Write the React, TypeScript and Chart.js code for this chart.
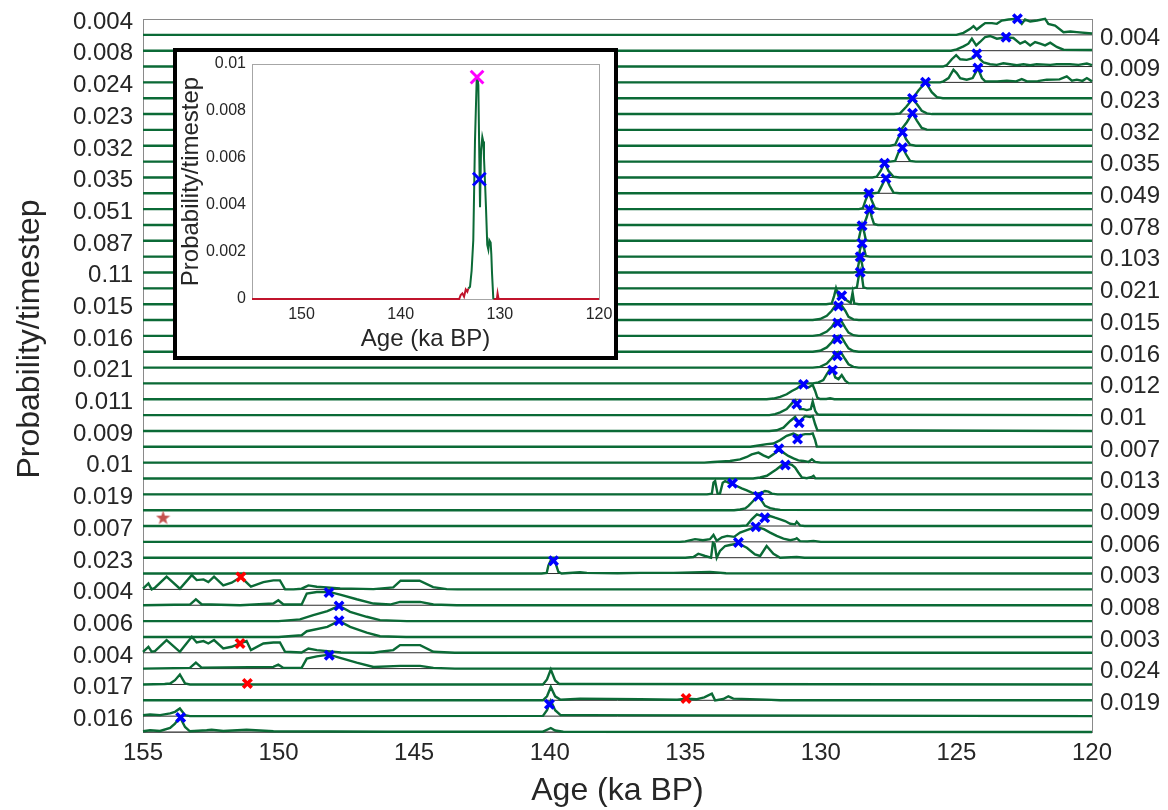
import React, { useEffect, useRef } from 'react';
import { Chart, registerables } from 'chart.js';

Chart.register(...registerables);

const FONT = "'Liberation Sans', Arial, Helvetica, sans-serif";
const TEXT = '#262626';
const GREEN = '#0b6a36';
const DARK_RED = '#c0142c';

const AGE_TICKS = [155, 150, 145, 140, 135, 130, 125, 120];
const INSET_AGE_TICKS = [150, 140, 130, 120];
const INSET_PROB_TICKS = [0, 0.002, 0.004, 0.006, 0.008, 0.01];

const LEFT_LABELS = ['0.004', '0.008', '0.024', '0.023', '0.032', '0.035', '0.051', '0.087', '0.11', '0.015', '0.016', '0.021', '0.011', '0.009', '0.01', '0.019', '0.007', '0.023', '0.004', '0.006', '0.004', '0.017', '0.016'];
const RIGHT_LABELS = ['0.004', '0.009', '0.023', '0.032', '0.035', '0.049', '0.078', '0.103', '0.021', '0.015', '0.016', '0.012', '0.01', '0.007', '0.013', '0.009', '0.006', '0.003', '0.008', '0.003', '0.024', '0.019'];

// Each row: [age (ka BP), relative density height]
const R00 = [[155, 0], [125.0, 0], [124.74, 2], [124.49, 6], [124.37, 8.7], [124.25, 5.3], [124.06, 9.3], [123.94, 11.7], [123.69, 11.7], [123.51, 11], [123.33, 14.3], [123.08, 15.3], [122.75, 16], [122.59, 11], [122.47, 15.3], [122.28, 13.3], [122.03, 14.3], [121.73, 16], [121.61, 11], [121.36, 9.3], [121.05, 2.7], [120.8, 3.3], [120.56, 2.7], [120, 1.3]];
const R01 = [[155, 0], [125.2, 0], [124.99, 1.3], [124.74, 4.3], [124.56, 7], [124.43, 12], [124.27, 5.3], [124.13, 8.7], [123.94, 13.7], [123.76, 14.7], [123.51, 12], [123.33, 12.7], [123.17, 13.3], [122.9, 12.7], [122.65, 7], [122.47, 9.3], [122.28, 5.3], [122.1, 8.7], [121.91, 7], [121.73, 5.3], [121.54, 8], [121.3, 3.7], [121.05, 1], [120, 0.7]];
const R02 = [[155, 0], [125.5, 0], [125.36, 1.3], [125.17, 7.3], [125.01, 11.3], [124.86, 7.3], [124.62, 6.7], [124.43, 8], [124.25, 12.3], [124.13, 7.3], [124.0, 4], [123.76, 2.3], [123.51, 1.7], [123.27, 3.3], [123.02, 2.3], [122.77, 1.3], [122.53, 2.3], [122.28, 1.3], [122.04, 2.3], [121.54, 1.7], [121.3, 2.3], [120.81, 2.3], [120.5, 1.7], [120.19, 3], [120, 1.3]];
const R03 = [[155, 0], [125.6, 0], [125.48, 1], [125.29, 4.3], [125.11, 12.7], [124.99, 9.3], [124.86, 4.3], [124.62, 2.7], [124.4, 4.3], [124.27, 11], [124.21, 14.3], [124.06, 4.3], [123.94, 1], [123.5, 1], [123.14, 1.7], [122.8, 1], [122.59, 3.3], [122.4, 1], [122, 1.3], [121.67, 2.7], [121.2, 3], [120.93, 6], [120.74, 1.7], [120.56, 2.7], [120.35, 1.5], [120.19, 4.3], [120, 1]];
const R04 = [[155, 0], [126.8, 0], [126.58, 1], [126.4, 7.7], [126.14, 16], [125.91, 6], [125.72, 1], [125.5, 0], [120, 0]];
const R05 = [[155, 0], [127.3, 0], [127.08, 0.7], [126.85, 7.3], [126.62, 15], [126.46, 10], [126.28, 3.3], [126.09, 0.7], [125.9, 0], [120, 0]];
const R06 = [[155, 0], [127.2, 0], [127.02, 1], [126.83, 7.7], [126.62, 16.7], [126.46, 9.3], [126.28, 2], [126.09, 0.3], [120, 0]];
const R07 = [[155, 0], [127.45, 0], [127.26, 1], [127.14, 8.3], [126.99, 15], [126.86, 6.7], [126.71, 1], [126.5, 0], [120, 0]];
const R08 = [[155, 0], [127.45, 0], [127.26, 0.7], [127.14, 9], [126.99, 14.7], [126.86, 7.3], [126.71, 0.7], [126.5, 0], [120, 0]];
const R09 = [[155, 0], [128.1, 0], [127.94, 0.7], [127.79, 6.7], [127.65, 15], [127.51, 6.7], [127.32, 0.7], [127.1, 0], [120, 0]];
const R10 = [[155, 0], [128.05, 0], [127.88, 0.7], [127.75, 7.7], [127.6, 16], [127.47, 7.7], [127.32, 0.7], [127.1, 0], [120, 0]];
const R11 = [[155, 0], [128.6, 0], [128.45, 1], [128.36, 8.3], [128.23, 16.7], [128.12, 8.3], [128.0, 1], [127.85, 0], [120, 0]];
const R12 = [[155, 0], [128.55, 0], [128.4, 1], [128.31, 7.7], [128.21, 17], [128.12, 7.7], [128.04, 1], [127.9, 0], [120, 0]];
const R13 = [[155, 0], [128.75, 0], [128.61, 0.7], [128.55, 8.3], [128.48, 16], [128.4, 8.3], [128.34, 0.7], [128.2, 0], [120, 0]];
const R14 = [[155, 0], [128.75, 0], [128.61, 0.7], [128.55, 7.7], [128.48, 14.3], [128.4, 7.7], [128.34, 0.7], [128.2, 0], [120, 0]];
const R15 = [[155, 0], [128.8, 0], [128.67, 0.7], [128.61, 8.3], [128.55, 16.7], [128.48, 8.3], [128.43, 0.7], [128.3, 0], [120, 0]];
const R16 = [[155, 0], [128.8, 0], [128.67, 1], [128.61, 11], [128.55, 17.7], [128.48, 11], [128.43, 1], [128.3, 0], [120, 0]];
const R17 = [[155, 0], [129.8, 0], [129.6, 0.7], [129.51, 8.3], [129.44, 16], [129.35, 8.3], [129.23, 7.7], [129.11, 5], [128.98, 2.7], [128.9, 1.3], [128.83, 11.7], [128.77, 0.7], [128.6, 0], [120, 0]];
const R18 = [[155, 0], [130.3, 0], [130.03, 1], [129.78, 4.3], [129.6, 9.3], [129.47, 14.3], [129.35, 16], [129.23, 14.3], [129.1, 9.3], [128.98, 3.3], [128.8, 0.7], [128.6, 0], [120, 0]];
const R19 = [[155, 0], [130.3, 0], [130.03, 1], [129.78, 4.3], [129.6, 9], [129.47, 14.3], [129.35, 15.7], [129.23, 14.3], [129.1, 8.3], [128.98, 3.3], [128.8, 0.7], [128.6, 0], [120, 0]];
const R20 = [[155, 0], [130.3, 0], [130.03, 1], [129.78, 4.3], [129.6, 9.3], [129.47, 15], [129.35, 16], [129.23, 14.3], [129.1, 8.3], [128.98, 3.3], [128.8, 0.7], [128.6, 0], [120, 0]];
const R21 = [[155, 0], [130.3, 0], [130.03, 0.7], [129.78, 4], [129.6, 9.3], [129.47, 14], [129.35, 15.7], [129.23, 14], [129.1, 8.3], [128.98, 3.3], [128.8, 0.7], [128.6, 0], [120, 0]];
const R22 = [[155, 0], [130.3, 0], [130.09, 1], [129.91, 3.3], [129.78, 9.3], [129.66, 14.3], [129.56, 13.3], [129.47, 6], [129.35, 4.3], [129.23, 8.3], [129.1, 2.7], [128.98, 0.3], [120, 0]];
const R23 = [[155, 0], [132, 0], [131.75, 0.7], [131.5, 2.3], [131.26, 5], [131.07, 8.3], [130.89, 10.7], [130.77, 13.3], [130.64, 14], [130.54, 12.3], [130.46, 11.7], [130.37, 13.3], [130.3, 14.3], [130.21, 8.3], [130.13, 1.7], [130.03, 0.3], [129.8, 0.3], [129.66, 1], [129.5, 0], [120, 0]];
const R24 = [[155, 0], [131.9, 0], [131.69, 1], [131.5, 2.7], [131.26, 6], [131.07, 11.7], [130.95, 15], [130.86, 11], [130.77, 6], [130.64, 6], [130.52, 5], [130.37, 6], [130.3, 13.7], [130.21, 4.3], [130.13, 1], [130.03, 0.3], [120, 0]];
const R25 = [[155, 0], [131.9, 0], [131.63, 0.7], [131.38, 3.3], [131.13, 10], [130.95, 14], [130.83, 8.3], [130.7, 11.7], [130.58, 15], [130.4, 14], [130.3, 15], [130.21, 6.7], [130.13, 0.7], [120, 0]];
const R26 = [[155, 0], [132.6, 0], [132.36, 1], [131.99, 2.7], [131.75, 3.3], [131.5, 6.7], [131.26, 11], [131.01, 13.3], [130.83, 11], [130.7, 12], [130.58, 12.7], [130.4, 12.7], [130.3, 13.3], [130.21, 6.7], [130.15, 0.3], [120, 0]];
const R27 = [[155, 0], [134.3, 0], [133.96, 0.7], [133.35, 1.7], [132.98, 3.3], [132.73, 5.7], [132.55, 8.3], [132.3, 10], [132.12, 7.3], [131.93, 5], [131.75, 8.3], [131.56, 12.3], [131.38, 10], [131.2, 6.7], [131.01, 4.3], [130.83, 2.3], [130.64, 1.7], [130.46, 0.7], [130.33, 3.3], [130.21, 0.7], [130.0, 0], [120, 0]];
const R28 = [[155, 0], [132.5, 0], [132.24, 1], [131.99, 2.7], [131.81, 6], [131.63, 9.3], [131.44, 13.3], [131.26, 15], [131.07, 13.7], [130.95, 11], [130.83, 6], [130.7, 1], [130.52, 0.3], [130.33, 1.7], [130.27, 2.7], [130.21, 0.3], [120, 0]];
const R29 = [[155, 0], [134.2, 0], [134.02, 0.7], [133.96, 11.7], [133.9, 13.3], [133.81, 0.7], [133.72, 0.7], [133.62, 11.7], [133.53, 13.3], [133.41, 11.7], [133.26, 10], [133.1, 8.3], [132.92, 6], [132.73, 4], [132.55, 1.7], [132.36, 0.7], [132.18, 1.7], [132.06, 3.3], [131.93, 2.7], [131.81, 0.7], [131.6, 0], [120, 0]];
const R30 = [[155, 0], [133.2, 0], [132.98, 0.7], [132.79, 1.7], [132.67, 4.3], [132.55, 7.7], [132.43, 11], [132.3, 14.3], [132.18, 9.3], [132.06, 4.3], [131.87, 2], [131.69, 1], [131.5, 0.3], [120, 0]];
const R31 = [[155, 0], [133, 0], [132.73, 0.7], [132.55, 6.7], [132.36, 11.7], [132.18, 10], [132.06, 7.7], [131.87, 10], [131.69, 8.3], [131.5, 6.7], [131.32, 5], [131.13, 2.3], [130.95, 1.7], [130.89, 4.3], [130.77, 0.7], [130.6, 0], [120, 0]];
const R32 = [[155, 0], [135.2, 0], [135.0, 0.5], [134.64, 2.7], [134.35, 1.7], [134.09, 2.7], [133.96, 7], [133.84, 1], [133.65, 4.5], [133.45, 6], [133.2, 5], [132.98, 9.3], [132.73, 11.7], [132.4, 15], [132.1, 12.7], [131.87, 9.3], [131.63, 6], [131.38, 3.3], [131.13, 1.7], [130.95, 2.7], [130.89, 3.7], [130.77, 0.7], [130.5, 0.5], [130.27, 1], [130.0, 0], [120, 0]];
const R33 = [[155, 0], [135, 0], [134.7, 0.7], [134.52, 4], [134.27, 1.7], [134.05, 0], [133.98, 15], [133.92, 14], [133.84, 0], [133.72, 6.7], [133.53, 11.7], [133.35, 12.7], [133.04, 14.3], [132.73, 10], [132.43, 3.3], [132.24, 1.7], [132.0, 11.7], [131.75, 4], [131.5, 0], [130.89, 0.7], [130.6, 0], [120, 0]];
const R34 = [[155, 0], [140.3, 0], [140.11, 0.7], [140.05, 8], [139.93, 15], [139.8, 11.7], [139.68, 1.7], [139.56, 0], [138.88, 1.3], [138.63, 0.7], [137.5, 0.3], [136.67, 0.7], [135.44, 0.7], [134.09, 1.7], [133.5, 0.3], [120, 0]];
const R35 = [[155, 0.7], [154.8, 6], [154.68, 0], [154.56, 1.7], [154.13, 12.7], [153.64, 0.7], [153.2, 14.3], [153.02, 9.3], [152.77, 10], [152.59, 7.3], [152.38, 12.7], [152.04, 4], [151.73, 6.7], [151.39, 12.3], [151.02, 2.7], [150.56, 7.3], [150.19, 9], [149.95, 9], [149.76, 0], [149.45, 0], [149.15, 0.7], [148.9, 4], [148.59, 2.7], [147.73, 1], [146.5, 0.3], [145.77, 2], [145.5, 8.7], [144.8, 8.7], [144.3, 2.2], [143.8, 0.3], [143.4, 0], [120, 0]];
const R36 = [[155, 0], [153.27, 0.7], [153.05, 6], [152.84, 1], [151.42, 0], [150.19, 1.7], [150.01, 5], [149.82, 0.7], [149.15, 0.7], [148.96, 11.7], [148.59, 13.3], [148.14, 13.3], [147.73, 10.7], [147.12, 6], [146.5, 1.7], [145.89, 0.7], [145.52, 3.3], [144.78, 3.3], [144.29, 0.7], [143.43, 0], [120, 0]];
const R37 = [[155, 0], [150, 0], [149.21, 1.7], [148.72, 6], [148.2, 10], [147.77, 15.3], [147.36, 9.3], [146.75, 4.3], [146.26, 1], [145.27, 0], [120, 0]];
const R38 = [[155, 0], [150, 0], [149.15, 1.7], [148.96, 5.7], [148.2, 10], [147.77, 16], [147.36, 10], [146.75, 4.3], [146.26, 0.7], [145.3, 0], [120, 0]];
const R39 = [[155, 1], [154.8, 6], [154.68, 1], [154.56, 1.7], [154.13, 12.7], [153.64, 1], [153.2, 16], [153.02, 10.3], [152.77, 11.7], [152.59, 9.3], [152.38, 12.7], [152.04, 4.3], [151.73, 6], [151.42, 9.3], [151.18, 11.7], [151.02, 2.7], [150.56, 9.3], [150.19, 10.3], [149.95, 10.3], [149.76, 1], [149.15, 0.3], [148.9, 4.3], [148.59, 2.7], [147.7, 0.3], [146.5, 0], [146.26, 1], [145.77, 2.7], [145.52, 7.7], [144.78, 7.7], [144.29, 1], [143.5, 0], [120, 0]];
const R40 = [[155, 0], [153.27, 0.7], [153.05, 6], [152.84, 1], [150.19, 1.7], [150.01, 4], [149.82, 0.7], [149.15, 0.7], [148.96, 10], [148.59, 12.3], [148.13, 14], [147.73, 10.7], [147.12, 6], [146.5, 1.7], [145.52, 2.7], [144.78, 2.7], [144.29, 0.7], [143.5, 0], [120, 0]];
const R41 = [[155, 0], [154.2, 0.5], [154.0, 1], [153.82, 4.3], [153.64, 10], [153.45, 1], [153.27, 0], [140.25, 0], [140.1, 5], [139.96, 15], [139.8, 4], [139.65, 0.5], [139.0, 0.5], [120, 0]];
const R42 = [[155, 0], [140.25, 0], [140.1, 4], [139.96, 13.3], [139.8, 4], [139.6, 0.5], [138.88, 1.7], [136.67, 1], [135.3, 0.5], [134.97, 1.7], [134.6, 1], [134.3, 3], [134.02, 6.7], [133.9, 0], [133.6, 1.3], [133.41, 4], [133.23, 1.7], [132.0, 0.7], [131.5, 0], [120, 0]];
const R43 = [[155, 1], [154.74, 1.7], [154.37, 1], [154.0, 2.7], [153.82, 4.3], [153.64, 7.7], [153.45, 1], [153.27, 0], [140.25, 0.3], [140.1, 6], [139.96, 15.3], [139.8, 6], [139.6, 1], [138.88, 1], [120, 0]];
const R44 = [[155, 0.7], [154.74, 1.7], [154.37, 1], [154.0, 4], [153.82, 8.3], [153.64, 15], [153.45, 5], [153.27, 0.7], [152.65, 1.7], [152.47, 2.3], [152.04, 1], [151.18, 2.3], [150.19, 0.7], [146, 0.3], [140.25, 0.3], [140.08, 2.5], [139.96, 4], [139.8, 1.5], [139.5, 0.3], [120, 0]];

// [row, age, height]
const BLUE_MARKS = [[0, 122.75, 16.1], [1, 123.17, 13.4], [2, 124.25, 12.8], [3, 124.21, 14.4], [4, 126.14, 15.9], [5, 126.62, 15.7], [6, 126.62, 16.6], [7, 126.99, 13.4], [8, 126.99, 13.9], [9, 127.65, 14.1], [10, 127.6, 14.9], [11, 128.23, 15.8], [12, 128.21, 15.6], [13, 128.48, 15.1], [14, 128.48, 13.3], [15, 128.55, 15.7], [16, 128.55, 16], [17, 129.23, 8.4], [18, 129.35, 14], [19, 129.38, 13], [20, 129.39, 12.6], [21, 129.39, 11.8], [22, 129.57, 13.3], [23, 130.64, 14.9], [24, 130.89, 11], [25, 130.8, 8.1], [26, 130.86, 7.7], [27, 131.55, 13.8], [28, 131.31, 13.4], [29, 133.26, 11], [30, 132.3, 14], [31, 132.07, 8.2], [32, 132.4, 15], [33, 133.04, 15.3], [34, 139.86, 12.7], [36, 148.14, 12.8], [37, 147.77, 15.2], [38, 147.77, 16.1], [40, 148.13, 13.4], [43, 140.01, 12], [44, 153.61, 14.5]];
const RED_MARKS = [[35, 151.39, 12.5], [39, 151.42, 9.3], [41, 151.15, 1], [42, 134.97, 1.8]];
const STAR_MARKS = [[31, 154.26, 8.9]];

// Inset: single-run probability curve
const INSET_AGES = [155, 134.1, 133.95, 133.78, 133.61, 133.44, 133.28, 133.18, 133.01, 132.85, 132.68, 132.51, 132.34, 132.25, 132.17, 132.07, 132.0, 131.9, 131.77, 131.67, 131.6, 131.5, 131.4, 131.27, 131.16, 131.06, 130.93, 130.86, 130.79, 130.66, 130.3, 130.23, 130.13, 120];
const INSET_PROBS = [0, 0, 0.00017, 0.00024, 0.0001, 0.00041, 0.00031, 0.00045, 0.00052, 0.0012, 0.0025, 0.0067, 0.0093, 0.0094, 0.0091, 0.006, 0.0039, 0.0063, 0.0069, 0.0067, 0.006, 0.005, 0.0039, 0.0023, 0.0021, 0.0025, 0.0024, 0.0019, 0.0011, 0, 0, 0.00024, 0, 0];
const INSET_GREEN_FROM = 133.18;
const INSET_GREEN_TO = 130.66;
const INSET_MAX_MARK = [132.3, 0.00944];
const INSET_MEDIAN_MARK = [132.07, 0.0051];

const ROWS = [R00, R01, R02, R03, R04, R05, R06, R07, R08, R09, R10, R11, R12, R13, R14, R15, R16, R17, R18, R19, R20, R21, R22, R23, R24, R25, R26, R27, R28, R29, R30, R31, R32, R33, R34, R35, R36, R37, R38, R39, R40, R41, R42, R43, R44];
const NROW = ROWS.length;
const ROW_UNIT = 15.84; // height units per row spacing
const LABEL_LIFT = 0.8;
const rowBase = (r: number) => NROW - 1 - r;

function makeStar(size: number, color: string) {
  const c = document.createElement('canvas');
  c.width = size;
  c.height = size;
  const ctx = c.getContext('2d')!;
  ctx.fillStyle = color;
  ctx.beginPath();
  for (let i = 0; i < 10; i++) {
    const rad = i % 2 === 0 ? size / 2 : size * 0.2;
    const ang = -Math.PI / 2 + (i * Math.PI) / 5;
    ctx.lineTo(size / 2 + rad * Math.cos(ang), size / 2 + 1 + rad * Math.sin(ang));
  }
  ctx.closePath();
  ctx.fill();
  return c;
}

const framePlugin = (color: string) => ({
  id: 'frame' + color.replace('#', ''),
  beforeDatasetsDraw(chart: any) {
    const { ctx, chartArea: a } = chart;
    ctx.save();
    ctx.strokeStyle = color;
    ctx.lineWidth = 1;
    ctx.strokeRect(Math.round(a.left) + 0.5, Math.round(a.top) + 0.5, Math.round(a.right - a.left), Math.round(a.bottom - a.top));
    ctx.restore();
  },
});

const yTitlePlugin = {
  id: 'ytitle',
  afterDraw(chart: any) {
    const ctx = chart.ctx;
    ctx.save();
    ctx.translate(30, 339);
    ctx.rotate(-Math.PI / 2);
    ctx.font = `32px ${FONT}`;
    ctx.fillStyle = TEXT;
    ctx.textAlign = 'center';
    ctx.textBaseline = 'middle';
    ctx.fillText('Probability/timestep', 0, 0);
    ctx.restore();
  },
};

const fitX = (h: number) => (s: any) => { s.height = h; s.paddingLeft = 0; s.paddingRight = 0; };
const fitY = (w: number) => (s: any) => { s.width = w; s.paddingTop = 0; s.paddingBottom = 0; };
const noGrid = { display: false, drawTicks: false, tickLength: 0 };

export default function App() {
  const mainRef = useRef<HTMLCanvasElement>(null);
  const insetRef = useRef<HTMLCanvasElement>(null);

  useEffect(() => {
    const datasets: any[] = [];
    const markerSet = (marks: number[][], color: string, style: any, radius: number, width: number) => ({
      data: marks.map(([r, a, h]) => ({ x: a, y: rowBase(r) + h / ROW_UNIT })),
      showLine: false,
      pointStyle: style,
      pointRadius: radius,
      pointHoverRadius: radius,
      borderColor: color,
      backgroundColor: color,
      borderWidth: width,
      pointBorderWidth: width,
      order: 0,
      clip: false,
    });
    datasets.push(markerSet(BLUE_MARKS, '#0000ff', 'crossRot', 6, 3.5));
    datasets.push(markerSet(RED_MARKS, '#ff0000', 'crossRot', 6, 3.5));
    datasets.push(markerSet(STAR_MARKS, '#c4514e', makeStar(15, '#c4514e'), 7, 1));
    ROWS.forEach((pts, r) => {
      datasets.push({
        data: pts.map(([a, h]) => ({ x: a, y: rowBase(r) + h / ROW_UNIT })),
        showLine: true,
        borderColor: GREEN,
        borderWidth: 2.4,
        pointRadius: 0,
        tension: 0,
        order: 1,
        clip: false,
      });
      datasets.push({
        data: [{ x: AGE_TICKS[0], y: rowBase(r) }, { x: AGE_TICKS[AGE_TICKS.length - 1], y: rowBase(r) }],
        showLine: true,
        borderColor: '#2a2a2a',
        borderWidth: 1,
        pointRadius: 0,
        order: 2,
        clip: false,
      });
    });

    const tickFont = { family: FONT, size: 24 };
    const main = new Chart(mainRef.current!, {
      type: 'scatter',
      data: { datasets },
      options: {
        animation: false,
        responsive: false,
        events: [],
        layout: { padding: { top: 19, right: 0, left: 0, bottom: 0 } },
        plugins: { legend: { display: false }, tooltip: { enabled: false } },
        scales: {
          x: {
            type: 'linear',
            min: 120,
            max: 155,
            reverse: true,
            afterBuildTicks: (s: any) => { s.ticks = AGE_TICKS.map((v) => ({ value: v })); },
            afterFit: fitX(78),
            ticks: { font: tickFont, color: TEXT, padding: 7, maxRotation: 0, autoSkip: false },
            grid: noGrid,
            border: { display: false },
            title: { display: true, text: 'Age (ka BP)', font: { family: FONT, size: 32 }, color: TEXT, padding: { top: 0, bottom: 0 } },
          },
          y: {
            type: 'linear',
            position: 'left',
            min: 0,
            max: NROW,
            afterBuildTicks: (s: any) => { s.ticks = LEFT_LABELS.map((_, i) => ({ value: rowBase(2 * i) + LABEL_LIFT })); },
            afterFit: fitY(143),
            ticks: { font: tickFont, color: TEXT, padding: 10, autoSkip: false, callback: (_v: any, i: number) => LEFT_LABELS[i] },
            grid: noGrid,
            border: { display: false },
          },
          y2: {
            type: 'linear',
            position: 'right',
            min: 0,
            max: NROW,
            afterBuildTicks: (s: any) => { s.ticks = RIGHT_LABELS.map((_, i) => ({ value: rowBase(2 * i + 1) + LABEL_LIFT })); },
            afterFit: fitY(76),
            ticks: { font: tickFont, color: TEXT, padding: 8, autoSkip: false, callback: (_v: any, i: number) => RIGHT_LABELS[i] },
            grid: noGrid,
            border: { display: false },
          },
        },
      } as any,
      plugins: [framePlugin('#8a8a8a'), yTitlePlugin],
    });

    const insetRed = INSET_AGES.map((a, i) => ({ x: a, y: a < INSET_GREEN_FROM && a > INSET_GREEN_TO ? null : INSET_PROBS[i] }));
    const insetGreen = INSET_AGES.map((a, i) => ({ x: a, y: INSET_PROBS[i] })).filter((p) => p.x <= INSET_GREEN_FROM && p.x >= INSET_GREEN_TO);
    const insetFont = { family: FONT, size: 16 };
    const inset = new Chart(insetRef.current!, {
      type: 'scatter',
      data: {
        datasets: [
          { data: [{ x: INSET_MAX_MARK[0], y: INSET_MAX_MARK[1] }], pointStyle: 'crossRot', pointRadius: 9, borderColor: '#ff00ff', borderWidth: 3, order: 0, clip: false },
          { data: [{ x: INSET_MEDIAN_MARK[0], y: INSET_MEDIAN_MARK[1] }], pointStyle: 'crossRot', pointRadius: 9, borderColor: '#0000ff', borderWidth: 3, order: 0, clip: false },
          { data: insetGreen, showLine: true, borderColor: GREEN, borderWidth: 2, pointRadius: 0, order: 1, clip: false },
          { data: insetRed, showLine: true, spanGaps: false, borderColor: DARK_RED, borderWidth: 2, pointRadius: 0, order: 2, clip: false },
        ],
      },
      options: {
        animation: false,
        responsive: false,
        events: [],
        layout: { padding: { top: 9, right: 15, left: 0, bottom: 0 } },
        plugins: { legend: { display: false }, tooltip: { enabled: false } },
        scales: {
          x: {
            type: 'linear',
            min: 120,
            max: 155,
            reverse: true,
            afterBuildTicks: (s: any) => { s.ticks = INSET_AGE_TICKS.map((v) => ({ value: v })); },
            afterFit: fitX(57),
            ticks: { font: insetFont, color: TEXT, padding: 6, maxRotation: 0, autoSkip: false },
            grid: noGrid,
            border: { display: false },
            title: { display: true, text: 'Age (ka BP)', font: { family: FONT, size: 24 }, color: TEXT, padding: { top: 0, bottom: 2 } },
          },
          y: {
            type: 'linear',
            min: 0,
            max: 0.01,
            afterBuildTicks: (s: any) => { s.ticks = INSET_PROB_TICKS.map((v) => ({ value: v })); },
            afterFit: fitY(75),
            ticks: { font: insetFont, color: TEXT, padding: 6, autoSkip: false, callback: (v: any) => String(+Number(v).toFixed(3)) },
            grid: noGrid,
            border: { display: false },
            title: { display: true, text: 'Probability/timestep', font: { family: FONT, size: 24 }, color: TEXT, padding: { top: 0, bottom: 0 } },
          },
        },
      } as any,
      plugins: [framePlugin('#a6a6a6')],
    });

    return () => {
      main.destroy();
      inset.destroy();
    };
  }, []);

  return (
    <div style={{ position: 'absolute', left: 0, top: 0, width: 1168, height: 810, background: '#fff', overflow: 'hidden' }}>
      <canvas ref={mainRef} width={1168} height={810} style={{ position: 'absolute', left: 0, top: 0, display: 'block' }} />
      <div style={{ position: 'absolute', left: 173, top: 48, width: 445, height: 312, boxSizing: 'border-box', border: '4px solid #000', background: '#fff' }}>
        <canvas ref={insetRef} width={437} height={304} style={{ display: 'block' }} />
      </div>
    </div>
  );
}
